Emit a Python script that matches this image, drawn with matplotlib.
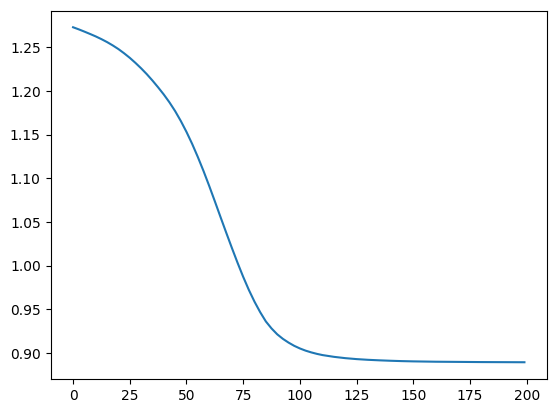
import matplotlib
matplotlib.use("Agg")
import matplotlib.pyplot as plt
import numpy as np

# values
steps = [0, 2.5, 5, 7.5, 10, 12.5, 15, 17.5, 20, 22.5, 25, 27.5, 30, 32.5, 35,
         37.5, 40, 42.5, 45, 47.5, 50, 52.5, 55, 57.5, 60, 62.5, 65, 67.5, 70,
         72.5, 75, 77.5, 80, 82.5, 85, 87.5, 90, 92.5, 95, 97.5, 100, 102.5,
         105, 107.5, 110, 115, 120, 125, 130, 135, 140, 145, 150, 160, 170,
         180, 190, 199]
values = [1.273, 1.2706, 1.268, 1.2653, 1.2625, 1.2594, 1.256, 1.2522, 1.248,
          1.2432, 1.238, 1.2322, 1.226, 1.2193, 1.212, 1.2042, 1.196, 1.187,
          1.177, 1.1657, 1.1532, 1.1395, 1.1245, 1.1085, 1.0915, 1.0738,
          1.0558, 1.038, 1.0205, 1.0035, 0.9873, 0.9723, 0.9588, 0.9468,
          0.9362, 0.9282, 0.9215, 0.9163, 0.9120, 0.9083, 0.9053, 0.9028,
          0.9008, 0.8991, 0.8977, 0.8957, 0.8942, 0.8931, 0.8923, 0.8917,
          0.8912, 0.8908, 0.8905, 0.8901, 0.8899, 0.8897, 0.8896, 0.8895]

fig = plt.figure(figsize=(5.56, 4.13), dpi=100)
ax = fig.add_axes([50.5/556, (413-379)/413, 496.5/556, 368.5/413])
ax.plot(steps, values)
ax.set_xticks([0, 25, 50, 75, 100, 125, 150, 175, 200])
ax.set_yticks(np.arange(0.90, 1.26, 0.05))

fig.savefig("out.png", dpi=100)
